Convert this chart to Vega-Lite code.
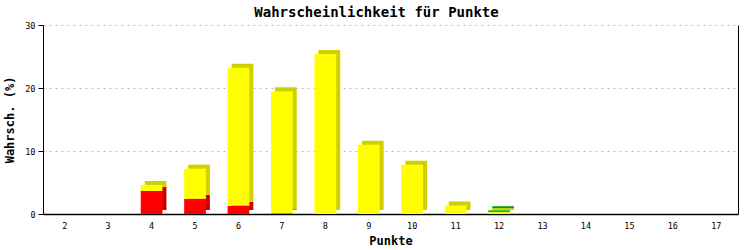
{
  "$schema": "https://vega.github.io/schema/vega-lite/v6.json",
  "width": 695,
  "height": 189,
  "autosize": {"type": "none"},
  "padding": {"left": 43, "top": 25, "right": 15, "bottom": 36},
  "background": "#ffffff",
  "config": {
    "view": {"stroke": null},
    "font": "DejaVu Sans Mono",
    "axisX": {
      "title": "Punkte", "titleFont": "DejaVu Sans Mono", "titleFontSize": 12, "titleFontWeight": "bold", "titleColor": "#000000", "titlePadding": 6,
      "labelFont": "DejaVu Sans Mono", "labelFontSize": 8.5, "labelColor": "#000000", "labelAngle": 0, "labelPadding": 7,
      "ticks": false, "domainColor": "#000000", "domainWidth": 1.5, "grid": false
    }
  },
  "title": {
    "text": "Wahrscheinlichkeit für Punkte",
    "font": "DejaVu Sans Mono",
    "fontSize": 14,
    "fontWeight": "bold",
    "color": "#000000",
    "anchor": "middle",
    "frame": "group",
    "dx": -14,
    "offset": 1
  },
  "data": {
    "values": [
      {"punkte": 4, "farbe": "rot", "ebene": 1, "wert": 3.65},
      {"punkte": 4, "farbe": "gelb", "ebene": 2, "wert": 0.95},
      {"punkte": 5, "farbe": "rot", "ebene": 1, "wert": 2.4},
      {"punkte": 5, "farbe": "gelb", "ebene": 2, "wert": 4.8},
      {"punkte": 6, "farbe": "rot", "ebene": 1, "wert": 1.3},
      {"punkte": 6, "farbe": "gelb", "ebene": 2, "wert": 21.9},
      {"punkte": 7, "farbe": "rot", "ebene": 1, "wert": 0.1},
      {"punkte": 7, "farbe": "gelb", "ebene": 2, "wert": 19.4},
      {"punkte": 8, "farbe": "gelb", "ebene": 2, "wert": 25.4},
      {"punkte": 9, "farbe": "gelb", "ebene": 2, "wert": 11.0},
      {"punkte": 10, "farbe": "gelb", "ebene": 2, "wert": 7.8},
      {"punkte": 11, "farbe": "gelb", "ebene": 2, "wert": 1.35},
      {"punkte": 12, "farbe": "gelb", "ebene": 2, "wert": 0.3},
      {"punkte": 12, "farbe": "grün", "ebene": 3, "wert": 0.3}
    ]
  },
  "resolve": {"scale": {"color": "independent"}, "axis": {"y": "independent"}},
  "layer": [
    {
      "mark": {"type": "bar", "xOffset": 4, "yOffset": -4, "stroke": null},
      "encoding": {
        "x": {
          "field": "punkte", "type": "ordinal",
          "scale": {"domain": [2,3,4,5,6,7,8,9,10,11,12,13,14,15,16,17], "paddingInner": 0.5, "paddingOuter": 0.25},
          "axis": {"title": "Punkte"}
        },
        "y": {
          "field": "wert", "type": "quantitative", "stack": "zero",
          "scale": {"domain": [0, 30], "nice": false},
          "axis": {"orient": "right", "labels": false, "ticks": false, "grid": false, "domain": true, "domainColor": "#000000", "domainWidth": 1, "title": null}
        },
        "order": {"field": "ebene", "type": "quantitative"},
        "color": {
          "field": "farbe", "type": "nominal",
          "scale": {"domain": ["rot", "gelb", "grün"], "range": ["#cc0000", "#d0d000", "#00a000"]},
          "legend": null
        }
      }
    },
    {
      "mark": {"type": "bar", "stroke": null},
      "encoding": {
        "x": {
          "field": "punkte", "type": "ordinal",
          "scale": {"domain": [2,3,4,5,6,7,8,9,10,11,12,13,14,15,16,17], "paddingInner": 0.5, "paddingOuter": 0.25},
          "axis": {"title": "Punkte"}
        },
        "y": {
          "field": "wert", "type": "quantitative", "stack": "zero",
          "scale": {"domain": [0, 30], "nice": false},
          "axis": {
            "title": "Wahrsch. (%)", "titleFont": "DejaVu Sans Mono", "titleFontSize": 12, "titleFontWeight": "bold", "titleColor": "#000000", "titlePadding": 8,
            "values": [0, 10, 20, 30],
            "labelFont": "DejaVu Sans Mono", "labelFontSize": 8.5, "labelColor": "#000000", "labelPadding": 3,
            "tickColor": "#000000", "tickSize": 5, "domainColor": "#000000", "domainWidth": 1,
            "grid": true, "gridColor": "#bbbbbb", "gridDash": [2, 4], "gridWidth": 1
          }
        },
        "order": {"field": "ebene", "type": "quantitative"},
        "color": {
          "field": "farbe", "type": "nominal",
          "scale": {"domain": ["rot", "gelb", "grün"], "range": ["#ff0000", "#ffff00", "#00cc00"]},
          "legend": null
        }
      }
    }
  ]
}
